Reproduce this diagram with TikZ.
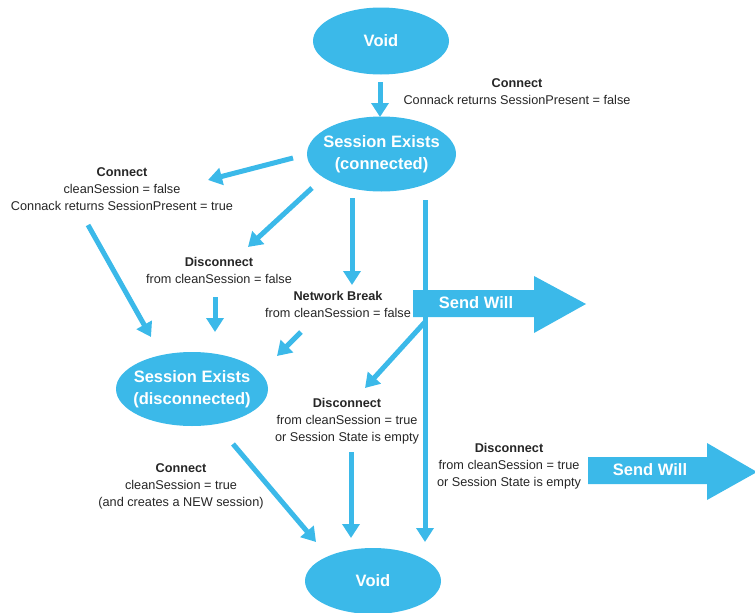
\documentclass[tikz,border=0pt]{standalone}
\usepackage{fontspec}
\setmainfont{Liberation Sans}
\usetikzlibrary{shapes.geometric,arrows.meta}

\definecolor{mqttblue}{RGB}{59,185,233}
\definecolor{labelgray}{RGB}{38,38,38}

\tikzset{
  state/.style={ellipse, fill=mqttblue, text=white, inner xsep=-6pt, inner ysep=0pt,
    align=center, font=\fontsize{16.5}{22}\selectfont\bfseries},
  flow/.style={draw=mqttblue, line width=5pt, -{Triangle[width=17pt,length=14pt]}},
  note/.style={align=center, text=labelgray, inner sep=0pt,
    font=\fontsize{12.7}{17}\selectfont},
  willbody/.style={fill=mqttblue, draw=none},
  willtext/.style={text=white, inner sep=0pt, font=\fontsize{16.5}{20}\selectfont\bfseries}
}

\begin{document}
\begin{tikzpicture}[x=1pt,y=-1pt]
  \useasboundingbox (0,0) rectangle (755,613);

  % states
  \node[state, minimum width=136pt, minimum height=67pt] (voidtop) at (381,41) {Void};
  \node[state, minimum width=149pt, minimum height=75pt] (conn) at (381.5,154)
    {Session Exists\\(connected)};
  \node[state, minimum width=152pt, minimum height=74pt] (disc) at (192,389)
    {Session Exists\\(disconnected)};
  \node[state, minimum width=136pt, minimum height=66pt] (voidbot) at (373,581) {Void};

  % transition labels
  \node[note] (lconnfirst) at (517,91.5)
    {\textbf{Connect}\\Connack returns SessionPresent = false};
  \node[note] (lconnresume) at (122,189)
    {\textbf{Connect}\\cleanSession = false\\Connack returns SessionPresent = true};
  \node[note] (ldiscfalse) at (219,270.5)
    {\textbf{Disconnect}\\from cleanSession = false};
  \node[note] (lbreak) at (338,304)
    {\textbf{Network Break}\\from cleanSession = false};
  \node[note] (ldisctrue) at (347,421)
    {\textbf{Disconnect}\\from cleanSession = true\\or Session State is empty};
  \node[note] (lconnnew) at (181,486)
    {\textbf{Connect}\\cleanSession = true\\(and creates a NEW session)};
  \node[note] (ldiscright) at (509,466)
    {\textbf{Disconnect}\\from cleanSession = true\\or Session State is empty};

  % arrow end points
  \coordinate (c1s) at (380,82);   \coordinate (c1e) at (380,117);
  \coordinate (c2s) at (293,158);  \coordinate (c2e) at (208,180);
  \coordinate (c3s) at (88,225);   \coordinate (c3e) at (151,337);
  \coordinate (c4s) at (312,188);  \coordinate (c4e) at (248,247);
  \coordinate (c5s) at (352,198);  \coordinate (c5e) at (352,285);
  \coordinate (c6s) at (215,297);  \coordinate (c6e) at (215,332);
  \coordinate (c7s) at (301,332);  \coordinate (c7e) at (277,356);
  \coordinate (trs) at (425,200);  \coordinate (tre) at (425,542);
  \coordinate (trb) at (425,322);  \coordinate (tbe) at (365,388);
  \coordinate (c8s) at (233,444);  \coordinate (c8e) at (316,542);
  \coordinate (c9s) at (351,452);  \coordinate (c9e) at (351,538);

  % Send Will arrows
  \path[willbody] (413,290) -- (534,290) -- (534,276) -- (586,304) -- (534,333)
    -- (534,317) -- (413,317) -- cycle;
  \node[willtext] (will1) at (476,303) {Send Will};
  \path[willbody] (588,457) -- (707,457) -- (707,443) -- (757,472) -- (707,500)
    -- (707,484) -- (588,484) -- cycle;
  \node[willtext] (will2) at (650,470) {Send Will};

  % connectors
  \draw[flow] (c1s) -- (c1e);
  \draw[flow] (c2s) -- (c2e);
  \draw[flow] (c3s) -- (c3e);
  \draw[flow] (c4s) -- (c4e);
  \draw[flow] (c5s) -- (c5e);
  \draw[flow] (c6s) -- (c6e);
  \draw[flow] (c7s) -- (c7e);
  \draw[flow] (trs) -- (tre);
  \draw[flow] (trb) -- (tbe);
  \draw[flow] (c8s) -- (c8e);
  \draw[flow] (c9s) -- (c9e);
\end{tikzpicture}
\end{document}
